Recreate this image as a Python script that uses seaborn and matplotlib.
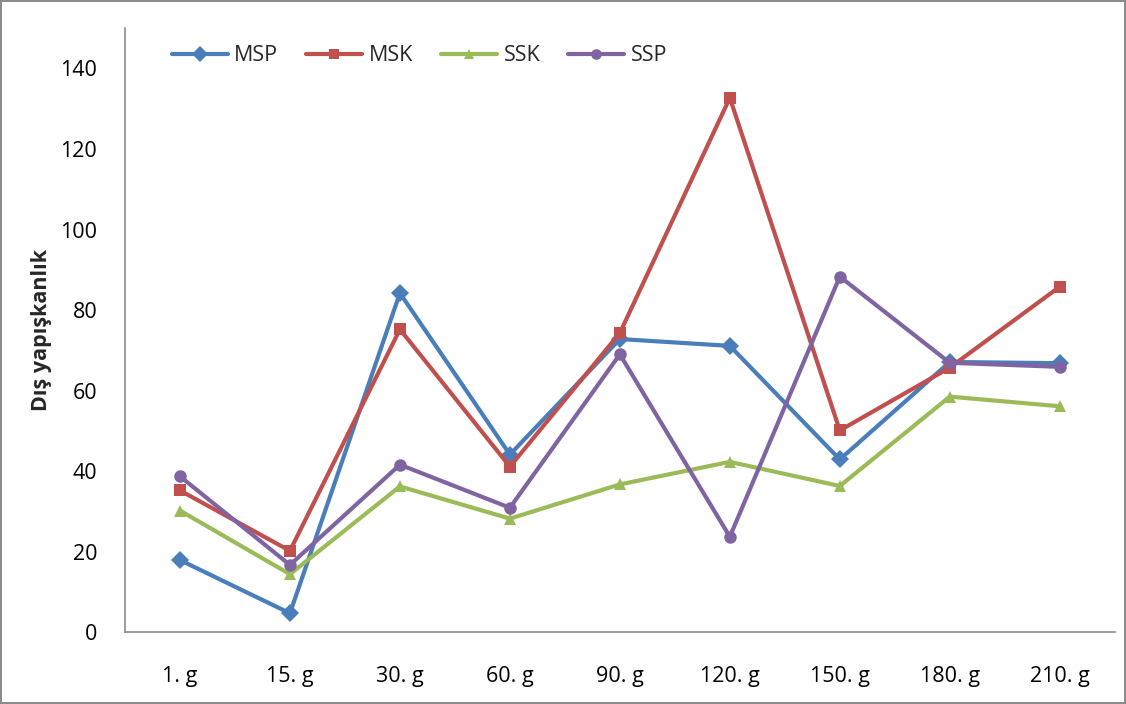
import matplotlib
matplotlib.use("Agg")
import matplotlib.pyplot as plt
import seaborn as sns
import pandas as pd

categories = ["1. g", "15. g", "30. g", "60. g", "90. g", "120. g", "150. g", "180. g", "210. g"]
msp = [17.9, 4.7, 84.2, 44.1, 72.8, 71.1, 42.9, 67.1, 66.8]
msk = [35.2, 20.2, 75.2, 41.1, 74.3, 132.7, 50.1, 65.7, 85.8]
ssk = [30.2, 14.4, 36.2, 28.2, 36.7, 42.3, 36.3, 58.5, 56.1]
ssp = [38.7, 16.7, 41.6, 30.9, 69.0, 23.7, 88.3, 66.9, 65.9]
series_names = ["MSP", "MSK", "SSK", "SSP"]
colors = {"MSP": "#4A7EBB", "MSK": "#C0504D", "SSK": "#9BBB59", "SSP": "#8064A2"}
markers = {"MSP": "D", "MSK": "s", "SSK": "^", "SSP": "o"}

rows = []
for name, vals in zip(series_names, [msp, msk, ssk, ssp]):
    for c, v in zip(categories, vals):
        rows.append({"gun": c, "val": v, "seri": name})
df = pd.DataFrame(rows)

sns.set_theme(style="white")
plt.rcParams['font.family'] = ['Open Sans', 'DejaVu Sans']

fig = plt.figure(figsize=(11.26, 7.04), dpi=100)
fig.patch.set_edgecolor("#8C8C8C")
fig.patch.set_linewidth(1.5)
ax = fig.add_axes([0.111, 0.102, 0.879, 0.858])

sns.lineplot(data=df, x="gun", y="val", hue="seri", style="seri",
             hue_order=series_names, style_order=series_names,
             palette=colors, markers=markers, dashes=False, sort=False,
             linewidth=3, markersize=9, markeredgewidth=0, ax=ax)

ax.set_xlim(-0.5, len(categories) - 0.5)
ax.set_ylim(0, 150)
ax.set_yticks([0, 20, 40, 60, 80, 100, 120, 140])
ax.tick_params(axis="both", length=0, labelsize=15.5, colors="black")
ax.tick_params(axis="y", pad=20)
ax.tick_params(axis="x", pad=24)
ax.set_xlabel("")
ax.set_ylabel("Dış yapışkanlık", fontsize=15.5, fontweight="bold", labelpad=6)
for s in ["top", "right"]:
    ax.spines[s].set_visible(False)
for s in ["left", "bottom"]:
    ax.spines[s].set_color("#8C8C8C")
    ax.spines[s].set_linewidth(1.2)

leg = ax.legend(loc="upper left", bbox_to_anchor=(0.145, 0.948), bbox_transform=fig.transFigure,
                ncol=4, frameon=False, fontsize=15.5, handlelength=2.6, columnspacing=1.3,
                handletextpad=0.3, borderaxespad=0, markerscale=0.85)

fig.savefig("out.png", dpi=100)
